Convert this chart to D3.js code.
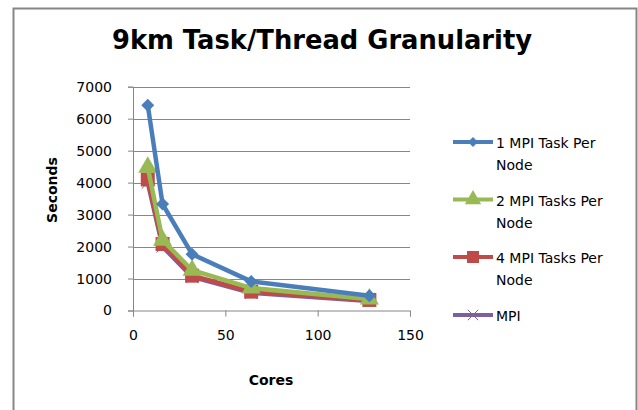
<!DOCTYPE html>
<html lang="en">
<head>
<meta charset="UTF-8">
<title>9km Task/Thread Granularity</title>
<script src="https://d3js.org/d3.v7.min.js"></script>
<style>
  body { margin: 0; background: #fff; }
  svg { display: block; font-family: "DejaVu Sans", sans-serif; }
</style>
</head>
<body>
<div id="chart"></div>
<script>
  const cores = [8, 16, 32, 64, 128];
  const seriesNames = ["1 MPI Task Per Node", "2 MPI Tasks Per Node", "4 MPI Tasks Per Node", "MPI"];
  const oneTask = [6420, 3330, 1760, 910, 460];
  const twoTasks = [4480, 2200, 1260, 700, 360];
  const fourTasks = [4100, 2080, 1090, 590, 330];
  const mpiOnly = [4000, 2000, 1050, 550, 300];
  const yTicks = [0, 1000, 2000, 3000, 4000, 5000, 6000, 7000];
  const xTicks = [0, 50, 100, 150];

  const colors = ["#4a7ebb", "#98b954", "#be4b48", "#7d5fa0"];
  const markers = ["diamond", "triangle", "square", "cross"];
  const allValues = [oneTask, twoTasks, fourTasks, mpiOnly];

  const width = 638, height = 410;
  const svg = d3.select("#chart").append("svg")
    .attr("width", width)
    .attr("height", height);

  // outer frame (bottom edge is off the picture)
  svg.append("path")
    .attr("d", "M13.5,420 V8.5 H636.5 V420")
    .attr("fill", "none")
    .attr("stroke", "#868686")
    .attr("stroke-width", 2);

  svg.append("text")
    .attr("x", 322).attr("y", 49)
    .attr("text-anchor", "middle")
    .attr("font-size", 26)
    .attr("font-weight", "bold")
    .attr("textLength", 420)
    .attr("lengthAdjust", "spacingAndGlyphs")
    .text("9km Task/Thread Granularity");

  const x = d3.scaleLinear().domain([0, 150]).range([133, 410]);
  const y = d3.scaleLinear().domain([0, 7000]).range([310.5, 86.7]);

  // gridlines
  svg.append("g")
    .selectAll("line")
    .data(yTicks.slice(1))
    .enter().append("line")
    .attr("x1", x(0)).attr("x2", x(150))
    .attr("y1", d => Math.round(y(d)) + 0.5)
    .attr("y2", d => Math.round(y(d)) + 0.5)
    .attr("stroke", "#868686");

  const yAxis = svg.append("g")
    .attr("transform", `translate(${x(0)},0)`)
    .call(d3.axisLeft(y).tickValues(yTicks).tickFormat(d3.format("d")).tickSize(5).tickPadding(16));
  const xAxis = svg.append("g")
    .attr("transform", `translate(0,${y(0)})`)
    .call(d3.axisBottom(x).tickValues(xTicks).tickFormat(d3.format("d")).tickSize(6).tickPadding(14));

  [yAxis, xAxis].forEach(a => {
    a.selectAll("path, line").attr("stroke", "#868686");
    a.selectAll("text").attr("font-size", 14).attr("fill", "#000")
      .attr("font-family", "DejaVu Sans, sans-serif");
  });

  svg.append("text")
    .attr("transform", "translate(57,190) rotate(-90)")
    .attr("text-anchor", "middle")
    .attr("font-size", 14).attr("font-weight", "bold")
    .text("Seconds");

  svg.append("text")
    .attr("x", 271).attr("y", 385)
    .attr("text-anchor", "middle")
    .attr("font-size", 14).attr("font-weight", "bold")
    .text("Cores");

  function drawMarker(sel, type, color, size) {
    if (type === "diamond") {
      // square turned 45 degrees, as in the reference
      sel.append("path").attr("d", d3.symbol(d3.symbolSquare, size * size * 0.5)())
        .attr("transform", "rotate(45)").attr("fill", color);
    } else if (type === "triangle") {
      sel.append("path").attr("d", d3.symbol(d3.symbolTriangle, size * size * 0.8)()).attr("fill", color);
    } else if (type === "square") {
      sel.append("path").attr("d", d3.symbol(d3.symbolSquare, size * size)()).attr("fill", color);
    } else {
      sel.append("path").attr("d", d3.symbol(d3.symbolX, size * size * 0.5)())
        .attr("fill", "none").attr("stroke", color).attr("stroke-width", 1);
    }
  }

  const line = d3.line().x((d, i) => x(cores[i])).y(d => y(d));

  // draw back to front so that blue stays on top like the reference
  [3, 2, 1, 0].forEach(s => {
    const g = svg.append("g");
    g.append("path")
      .attr("d", line(allValues[s]))
      .attr("fill", "none")
      .attr("stroke", colors[s])
      .attr("stroke-width", 4.5)
      .attr("stroke-linejoin", "round");
    allValues[s].forEach((v, i) => {
      const m = g.append("g").attr("transform", `translate(${x(cores[i])},${y(v)})`);
      drawMarker(m, markers[s], colors[s], s === 0 ? 13 : 14);
    });
  });

  // legend
  const legendY = [142, 199.5, 257, 315];
  const legend = svg.append("g");
  seriesNames.forEach((name, s) => {
    const g = legend.append("g").attr("transform", `translate(0,${legendY[s]})`);
    g.append("line").attr("x1", 453).attr("x2", 493)
      .attr("stroke", colors[s]).attr("stroke-width", 4);
    const m = g.append("g").attr("transform", "translate(473,0)");
    drawMarker(m, markers[s], colors[s], s === 0 ? 10 : 12);
    const words = name.split(" ");
    const lines = words.length > 2 ? [words.slice(0, words.length - 1).join(" "), words[words.length - 1]] : [name];
    lines.forEach((t, k) => {
      g.append("text")
        .attr("x", 496).attr("y", 6 + k * 22)
        .attr("font-size", 14)
        .attr("fill", "#000")
        .text(t);
    });
  });
</script>
</body>
</html>
